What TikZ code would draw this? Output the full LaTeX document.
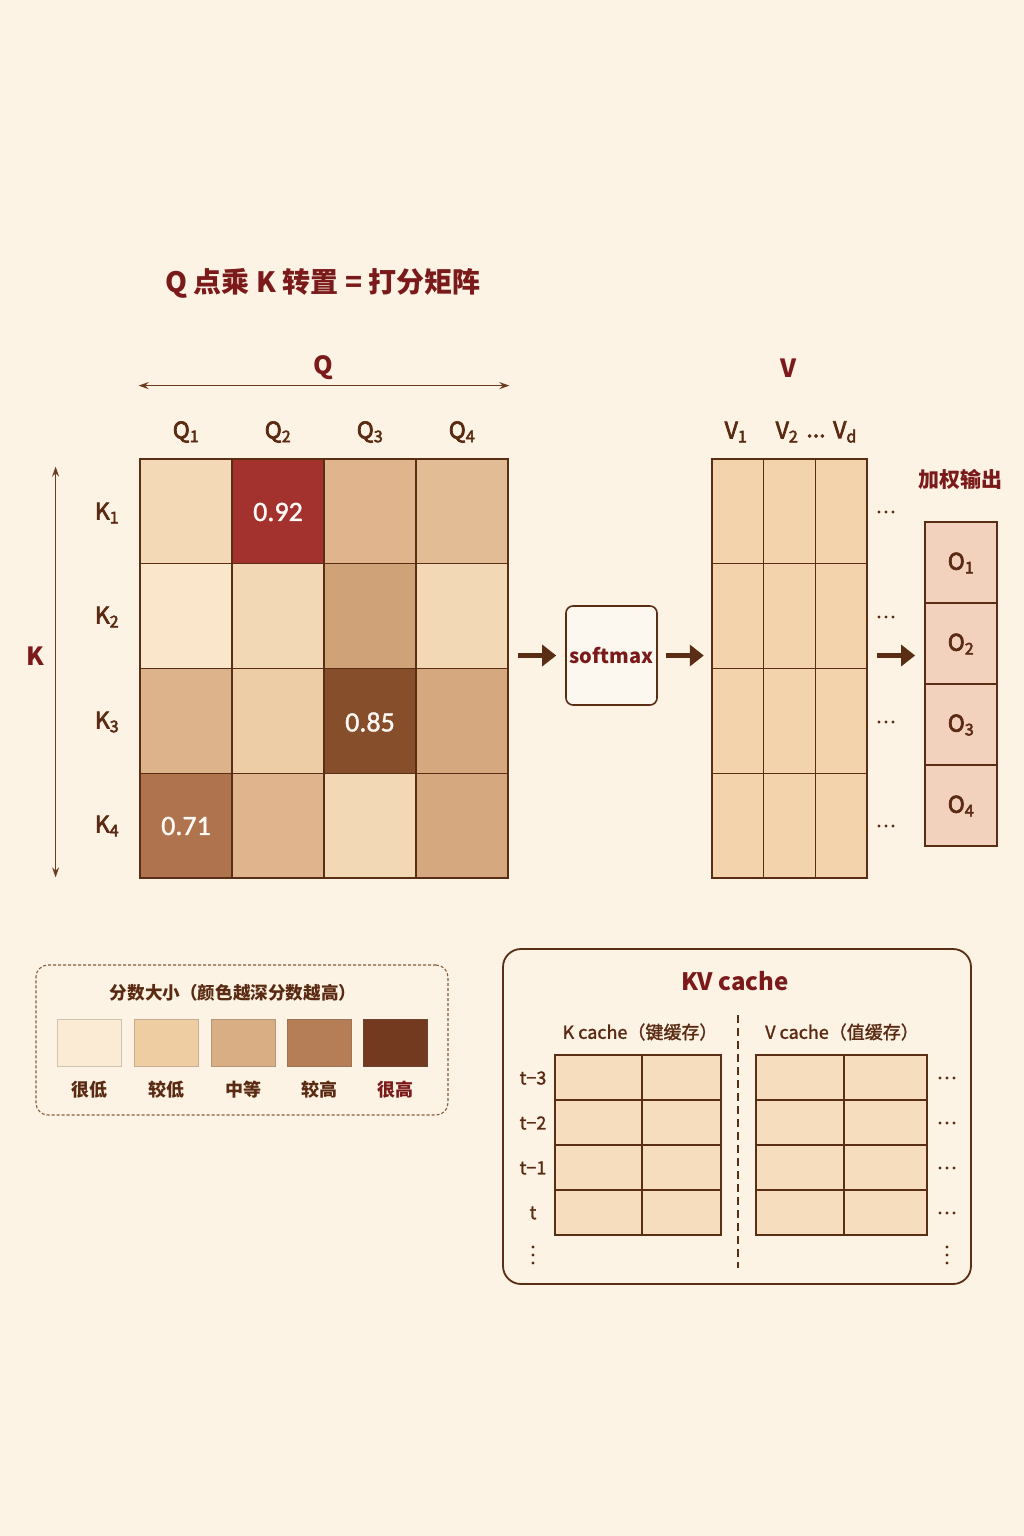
\documentclass[tikz,border=0pt]{standalone}
\usepackage{fontspec}
\setmainfont{Noto Sans CJK SC}
\newfontfamily\medfont{Noto Sans CJK SC}[UprightFeatures={FakeBold=3}]
\newfontfamily\semfont{Noto Sans CJK SC}[UprightFeatures={FakeBold=1.5}]
\newfontfamily\numfont{Carlito}[UprightFeatures={FakeBold=1.2}]
\usetikzlibrary{arrows.meta}
\definecolor{bg}{HTML}{FCF3E4}
\definecolor{dred}{HTML}{7B1A1A}
\definecolor{ln}{HTML}{5A2E14}
\definecolor{lab}{HTML}{5A2A12}
\definecolor{axis}{HTML}{6E3D20}
\definecolor{ca}{HTML}{F3D9B5}
\definecolor{cb}{HTML}{A3322E}
\definecolor{cc}{HTML}{E0B58E}
\definecolor{cd}{HTML}{E2BC95}
\definecolor{ce}{HTML}{F9E6CB}
\definecolor{cf}{HTML}{F3D8B5}
\definecolor{cg}{HTML}{D0A277}
\definecolor{ch}{HTML}{DDB38B}
\definecolor{ci}{HTML}{EDCDA6}
\definecolor{cj}{HTML}{874E2B}
\definecolor{ck}{HTML}{D6A87F}
\definecolor{cl}{HTML}{AF744D}
\definecolor{vfill}{HTML}{F2D3AC}
\definecolor{ofill}{HTML}{F3D2BD}
\definecolor{kvfill}{HTML}{F5DDBD}
\definecolor{sw1}{HTML}{FBEBD5}
\definecolor{sw2}{HTML}{EFCDA3}
\definecolor{sw3}{HTML}{DAAE84}
\definecolor{sw4}{HTML}{B67E56}
\definecolor{sw5}{HTML}{733A1F}
\definecolor{legline}{HTML}{8A5A3E}
\newcommand\hmcell[3]{\fill[#3] ({140+92*(#1-1)},{459+104.75*(#2-1)}) rectangle ++(92,104.75);}
\newcommand\hdots[2]{\foreach \dx in {-7,0,7} \fill[lab] ({#1+\dx},#2) circle (1.6);}
\newcommand\vdotsd[2]{\foreach \dy in {-8,0,8} \fill[lab] (#1,{#2+\dy}) circle (1.7);}
\begin{document}
\begin{tikzpicture}[x=1pt,y=-1pt,
  every node/.style={inner sep=0pt},
  ttl/.style={text=dred, font=\bfseries\fontsize{28}{30}\selectfont},
  big/.style={text=dred, font=\bfseries\fontsize{25}{27}\selectfont},
  lbl/.style={text=lab, font=\medfont\fontsize{23}{25}\selectfont},
  num/.style={text=white!96!orange, font=\numfont\fontsize{28}{30}\selectfont},
  small/.style={text=lab, font=\semfont\fontsize{18}{20}\selectfont},
  legl/.style={text=lab, font=\bfseries\fontsize{18}{20}\selectfont},
  thin axis/.style={draw=axis, line width=1.3pt, {Stealth[length=10pt,width=7pt]}-{Stealth[length=10pt,width=7pt]}},
  bigarrow/.style={draw=ln, line width=5pt, -{Triangle[length=14pt,width=21pt]}},
  grid/.style={draw=ln, line width=1.4pt},
]
\fill[bg] (0,0) rectangle (1024,1536);
\useasboundingbox (0,0) rectangle (1024,1536);

% title
\node[ttl] (title) at (323,283) {Q 点乘 K 转置 = 打分矩阵};

% heat map cells
\hmcell{1}{1}{ca}\hmcell{2}{1}{cb}\hmcell{3}{1}{cc}\hmcell{4}{1}{cd}
\hmcell{1}{2}{ce}\hmcell{2}{2}{cf}\hmcell{3}{2}{cg}\hmcell{4}{2}{cf}
\hmcell{1}{3}{ch}\hmcell{2}{3}{ci}\hmcell{3}{3}{cj}\hmcell{4}{3}{ck}
\hmcell{1}{4}{cl}\hmcell{2}{4}{cc}\hmcell{3}{4}{cf}\hmcell{4}{4}{ck}
\foreach \x in {232,324,416} \draw[grid] (\x,459) -- (\x,878);
\foreach \y in {563.75,668.5,773.25} \draw[grid] (140,\y) -- (508,\y);
\node[draw=ln, line width=2.8pt, minimum width=368pt, minimum height=419pt] (mat) at (324,668.5) {};
\node[num] (v92) at (278,512) {0.92};
\node[num] (v85) at (370,722) {0.85};
\node[num] (v71) at (186,826) {0.71};

% Q axis
\node[big] (qlab) at (323,368) {Q};
\draw[thin axis] ([yshift=72pt]mat.north west) -- ([yshift=72pt]mat.north east);
\node[lbl] (q1) at (186,432) {Q\textsubscript{1}};
\node[lbl] (q2) at (278,432) {Q\textsubscript{2}};
\node[lbl] (q3) at (370,432) {Q\textsubscript{3}};
\node[lbl] (q4) at (462,432) {Q\textsubscript{4}};

% K axis
\node[big] (klab) at (35,656) {K};
\draw[thin axis] ([xshift=-83pt,yshift=-9pt]mat.north west) -- ([xshift=-83pt,yshift=2pt]mat.south west);
\node[lbl] (k1) at (107,513) {K\textsubscript{1}};
\node[lbl] (k2) at (107,617) {K\textsubscript{2}};
\node[lbl] (k3) at (107,722) {K\textsubscript{3}};
\node[lbl] (k4) at (107,826) {K\textsubscript{4}};

% softmax
\node[draw=ln, line width=1.6pt, rounded corners=7pt, fill=bg!60!white, minimum width=91pt, minimum height=99pt, text=dred, font=\bfseries\fontsize{20}{22}\selectfont] (soft) at (611.5,655.5) {softmax};

% V matrix
\fill[vfill] (712,459) rectangle (867,878);
\foreach \x in {763.67,815.33} \draw[grid] (\x,459) -- (\x,878);
\foreach \y in {563.75,668.5,773.25} \draw[grid] (712,\y) -- (867,\y);
\node[draw=ln, line width=2.4pt, minimum width=155pt, minimum height=419pt] (vmat) at (789.5,668.5) {};
\node[big] (vlab) at (789,368) {V};
\node[lbl] (v1) at (736,432) {V\textsubscript{1}};
\node[lbl] (v2) at (787,432) {V\textsubscript{2}};
\node[lbl] (vdots) at (816,436) {...};
\node[lbl] (vd) at (845,432) {V\textsubscript{d}};
\hdots{886}{512}\hdots{886}{617}\hdots{886}{722}\hdots{886}{826}

% output column
\node[text=dred, font=\bfseries\fontsize{21}{23}\selectfont] (otitle) at (960,479) {加权输出};
\fill[ofill] (925,522) rectangle (997,846);
\foreach \y in {603,684,765} \draw[draw=ln, line width=1.5pt] (925,\y) -- (997,\y);
\node[draw=ln, line width=1.8pt, minimum width=72pt, minimum height=324pt] (ocol) at (961,684) {};
\node[lbl] (o1) at (961,563) {O\textsubscript{1}};
\node[lbl] (o2) at (961,644) {O\textsubscript{2}};
\node[lbl] (o3) at (961,725) {O\textsubscript{3}};
\node[lbl] (o4) at (961,806) {O\textsubscript{4}};

% flow arrows
\draw[bigarrow] ([xshift=9pt]soft.west -| mat.east) -- ([xshift=-9pt]soft.west);
\draw[bigarrow] ([xshift=8pt]soft.east) -- ([xshift=-7pt]soft.east -| vmat.west);
\draw[bigarrow] ([xshift=9pt]soft.east -| vmat.east) -- ([xshift=-9pt]soft.east -| ocol.west);

% legend
\node[draw=legline, line width=1.1pt, dash pattern=on 3pt off 2pt, rounded corners=12pt, minimum width=412pt, minimum height=150pt] (legend) at (242,1040) {};
\node[text=lab, font=\bfseries\fontsize{17.6}{19}\selectfont] (legt) at (233,993) {分数大小（颜色越深分数越高）};
\foreach \xa/\c [count=\i] in {57/sw1,134/sw2,211/sw3,287/sw4,363/sw5}
  \filldraw[fill=\c, draw=\c!80!black!90, line width=0.9pt] (\xa,1019) rectangle ++(64,47);
\node[legl] (l1) at (89,1090) {很低};
\node[legl] (l2) at (166,1090) {较低};
\node[legl] (l3) at (243,1090) {中等};
\node[legl] (l4) at (319,1090) {较高};
\node[legl, text=dred] (l5) at (395,1090) {很高};

% KV cache
\node[draw=ln, line width=1.8pt, rounded corners=18pt, minimum width=468pt, minimum height=335pt] (kvbox) at (737,1116.5) {};
\node[text=dred, font=\bfseries\fontsize{24}{26}\selectfont] (kvt) at (735,981) {KV cache};
\node[small] (kc) at (640,1032) {K cache（键缓存）};
\node[small] (vc) at (842,1032) {V cache（值缓存）};
\draw[draw=ln, line width=1.3pt, dash pattern=on 8pt off 5pt] (738,1015) -- (738,1268);
\fill[kvfill] (555,1055) rectangle (721,1235);
\fill[kvfill] (756,1055) rectangle (927,1235);
\foreach \y in {1100,1145,1190} {\draw[grid] (555,\y) -- (721,\y); \draw[grid] (756,\y) -- (927,\y);}
\draw[grid] (642,1055) -- (642,1235);
\draw[grid] (844,1055) -- (844,1235);
\node[draw=ln, line width=1.8pt, minimum width=166pt, minimum height=180pt] (kgrid) at (638,1145) {};
\node[draw=ln, line width=1.8pt, minimum width=171pt, minimum height=180pt] (vgrid) at (841.5,1145) {};
\node[small] (t3) at (533,1078) {t−3};
\node[small] (t2) at (533,1123) {t−2};
\node[small] (t1) at (533,1168) {t−1};
\node[small] (t0) at (533,1213) {t};
\vdotsd{533}{1255}
\hdots{947}{1078}\hdots{947}{1123}\hdots{947}{1168}\hdots{947}{1213}
\vdotsd{947}{1255}
\end{tikzpicture}
\end{document}
